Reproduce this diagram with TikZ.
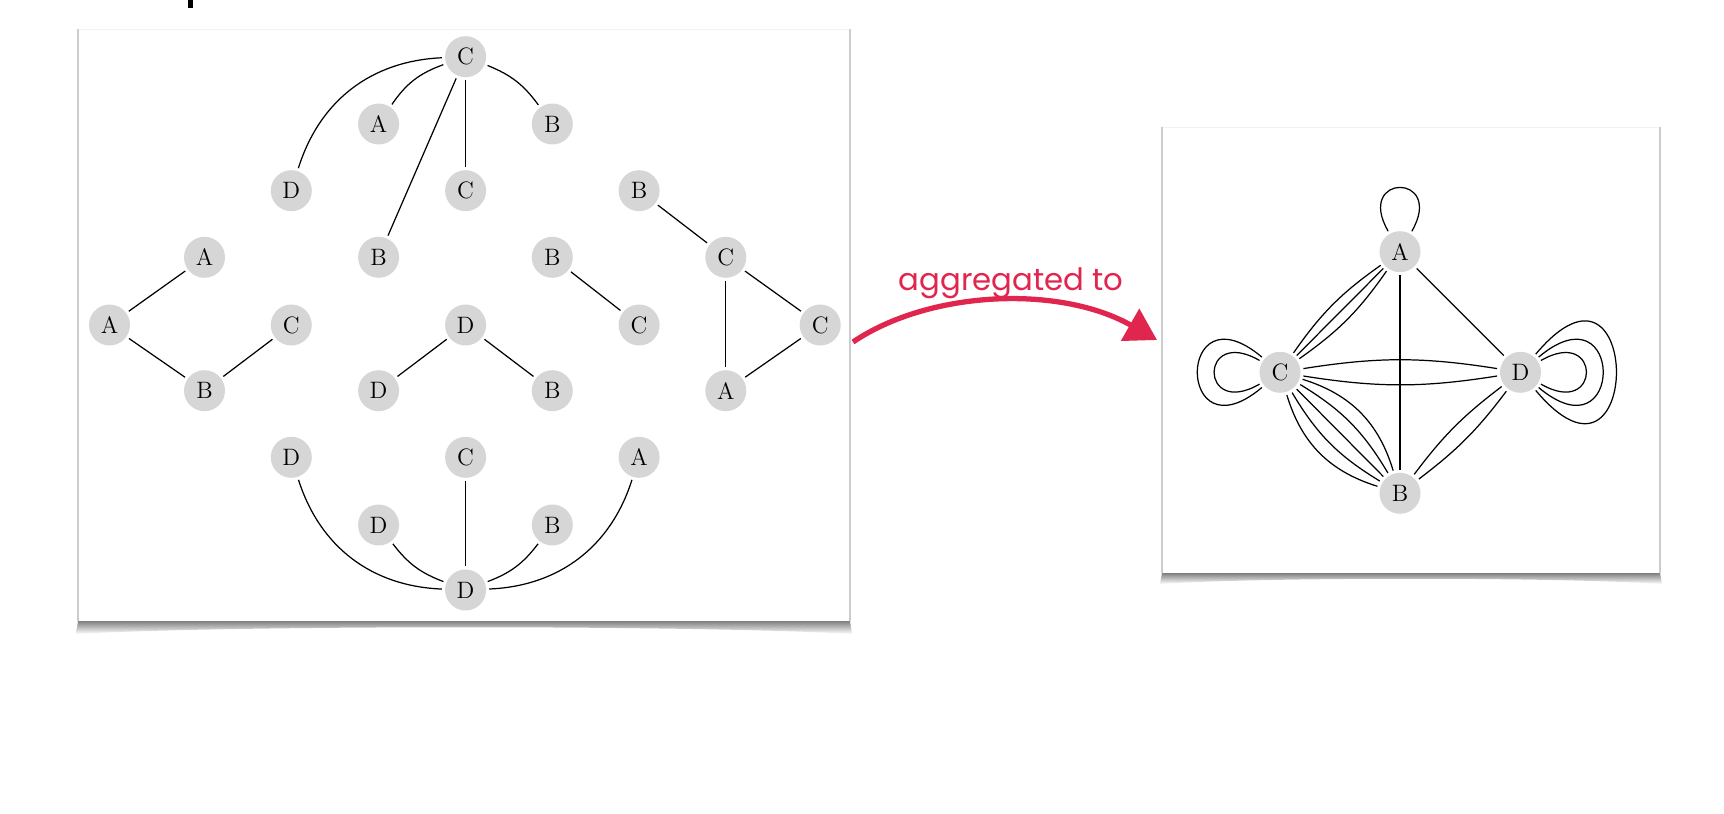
\documentclass[tikz,border=0pt]{standalone}
\usepackage{fontspec}
\newfontfamily\handfont{Poppins}
\usetikzlibrary{arrows.meta}
\definecolor{crimson}{RGB}{224,38,78}
\definecolor{nodegray}{RGB}{214,214,214}
\tikzset{
  vtx/.style={circle, fill=nodegray, minimum size=0.82cm, inner sep=0pt, outer sep=1.8pt, font=\fontsize{13.5}{15}\selectfont},
  lnk/.style={line width=0.7pt},
  cardside/.style={gray!40, line width=0.9pt},
  cardshadow/.style={top color=black!50, bottom color=white},
}
\begin{document}
\begin{tikzpicture}[x=0.02cm, y=-0.02cm]
\fill[white] (0,0) rectangle (1724,814);
\fill (188,0) rectangle (193,8);
% left card
\shade[cardshadow] (78,621) -- (850,621) -- (852,634) .. controls (700,625) and (230,625) .. (76,634) -- cycle;
\fill[white] (78,29) rectangle (850,621);
\draw[gray!10] (78,29) -- (850,29);
\draw[cardside] (78,29) -- (78,621);
\draw[cardside] (850,29) -- (850,621);
% right card
\shade[cardshadow] (1162,573) -- (1660,573) -- (1662,584) .. controls (1560,577) and (1260,577) .. (1160,584) -- cycle;
\fill[white] (1162,127) rectangle (1660,573);
\draw[gray!10] (1162,127) -- (1660,127);
\draw[cardside] (1162,127) -- (1162,573);
\draw[cardside] (1660,127) -- (1660,573);
% small graphs
\node[vtx] (lid0) at (465.6,56.7){C};
\node[vtx] (lid1) at (378.6,124){A};
\node[vtx] (lid2) at (552.3,124){B};
\node[vtx] (lid3) at (291.3,190.7){D};
\node[vtx] (lid4) at (465.6,190.7){C};
\node[vtx] (lid5) at (378.6,257.3){B};
\draw[lnk](lid0) to[bend right=35] (lid3);
\draw[lnk](lid0) to[bend right=18] (lid1);
\draw[lnk](lid0) -- (lid5);
\draw[lnk](lid0) -- (lid4);
\draw[lnk](lid0) to[bend left=16] (lid2);
\node[vtx] (lid6) at (204.5,257.3){A};
\node[vtx] (lid7) at (109.5,325){A};
\node[vtx] (lid8) at (291.3,325){C};
\node[vtx] (lid9) at (204.5,390.7){B};
\draw[lnk](lid7) -- (lid6);
\draw[lnk](lid7) -- (lid9);
\draw[lnk](lid9) -- (lid8);
\node[vtx] (lid10) at (465.6,325){D};
\node[vtx] (lid11) at (378.6,390.7){D};
\node[vtx] (lid12) at (552.3,390.7){B};
\draw[lnk](lid10) -- (lid11);
\draw[lnk](lid10) -- (lid12);
\node[vtx] (lid13) at (552.3,257.3){B};
\node[vtx] (lid14) at (639.1,325){C};
\draw[lnk](lid13) -- (lid14);
\node[vtx] (lid15) at (639.1,190.7){B};
\node[vtx] (lid16) at (725.8,257.3){C};
\node[vtx] (lid17) at (820.2,325){C};
\node[vtx] (lid18) at (725.8,390.7){A};
\draw[lnk](lid15) -- (lid16);
\draw[lnk](lid16) -- (lid17);
\draw[lnk](lid16) -- (lid18);
\draw[lnk](lid17) -- (lid18);
\node[vtx] (lid19) at (291.3,457.3){D};
\node[vtx] (lid20) at (465.6,457.3){C};
\node[vtx] (lid21) at (639.1,457.3){A};
\node[vtx] (lid22) at (378.6,525){D};
\node[vtx] (lid23) at (552.3,525){B};
\node[vtx] (lid24) at (465.6,590){D};
\draw[lnk](lid19) to[bend right=35] (lid24);
\draw[lnk](lid22) to[bend right=16] (lid24);
\draw[lnk](lid20) -- (lid24);
\draw[lnk](lid23) to[bend left=16] (lid24);
\draw[lnk](lid21) to[bend left=35] (lid24);
% arrow
\coordinate (arrfrom) at (853,342);
\coordinate (arrto) at (1157,340);
\draw[crimson, line width=3pt, -{Triangle[length=0.62cm, width=0.72cm]}] (arrfrom) .. controls (930,290) and (1060,285) .. (arrto);
\node[crimson, anchor=base, font=\handfont\fontsize{17.5}{20}\selectfont] (aggtext) at (1011,291){aggregated to};
% aggregated graph
\node[vtx] (aidA) at (1400,251.7){A};
\node[vtx] (aidC) at (1280,372.3){C};
\node[vtx] (aidD) at (1520.5,372.3){D};
\node[vtx] (aidB) at (1400,493.3){B};
\draw[lnk](aidA) to[out=120, in=60, distance=1.35cm] (aidA);
\draw[lnk](aidA) to[bend right=10] (aidC);
\draw[lnk](aidA) -- (aidC);
\draw[lnk](aidA) to[bend left=10] (aidC);
\draw[lnk](aidA) -- (aidB);
\draw[lnk](aidA) -- (aidD);
\draw[lnk](aidC) to[bend left=9] (aidD);
\draw[lnk](aidC) to[bend right=9] (aidD);
\draw[lnk](aidC) to[out=140, in=220, distance=2.25cm] (aidC);
\draw[lnk](aidC) to[out=150, in=210, distance=1.4cm] (aidC);
\draw[lnk](aidC) to[bend left=28] (aidB);
\draw[lnk](aidC) to[bend left=14] (aidB);
\draw[lnk](aidC) -- (aidB);
\draw[lnk](aidC) to[bend right=14] (aidB);
\draw[lnk](aidC) to[bend right=28] (aidB);
\draw[lnk](aidD) to[bend left=8] (aidB);
\draw[lnk](aidD) to[bend right=8] (aidB);
\draw[lnk](aidD) to[out=30, in=-30, distance=1.4cm] (aidD);
\draw[lnk](aidD) to[out=40, in=-40, distance=2.25cm] (aidD);
\draw[lnk](aidD) to[out=50, in=-50, distance=3.35cm] (aidD);
\end{tikzpicture}
\end{document}
